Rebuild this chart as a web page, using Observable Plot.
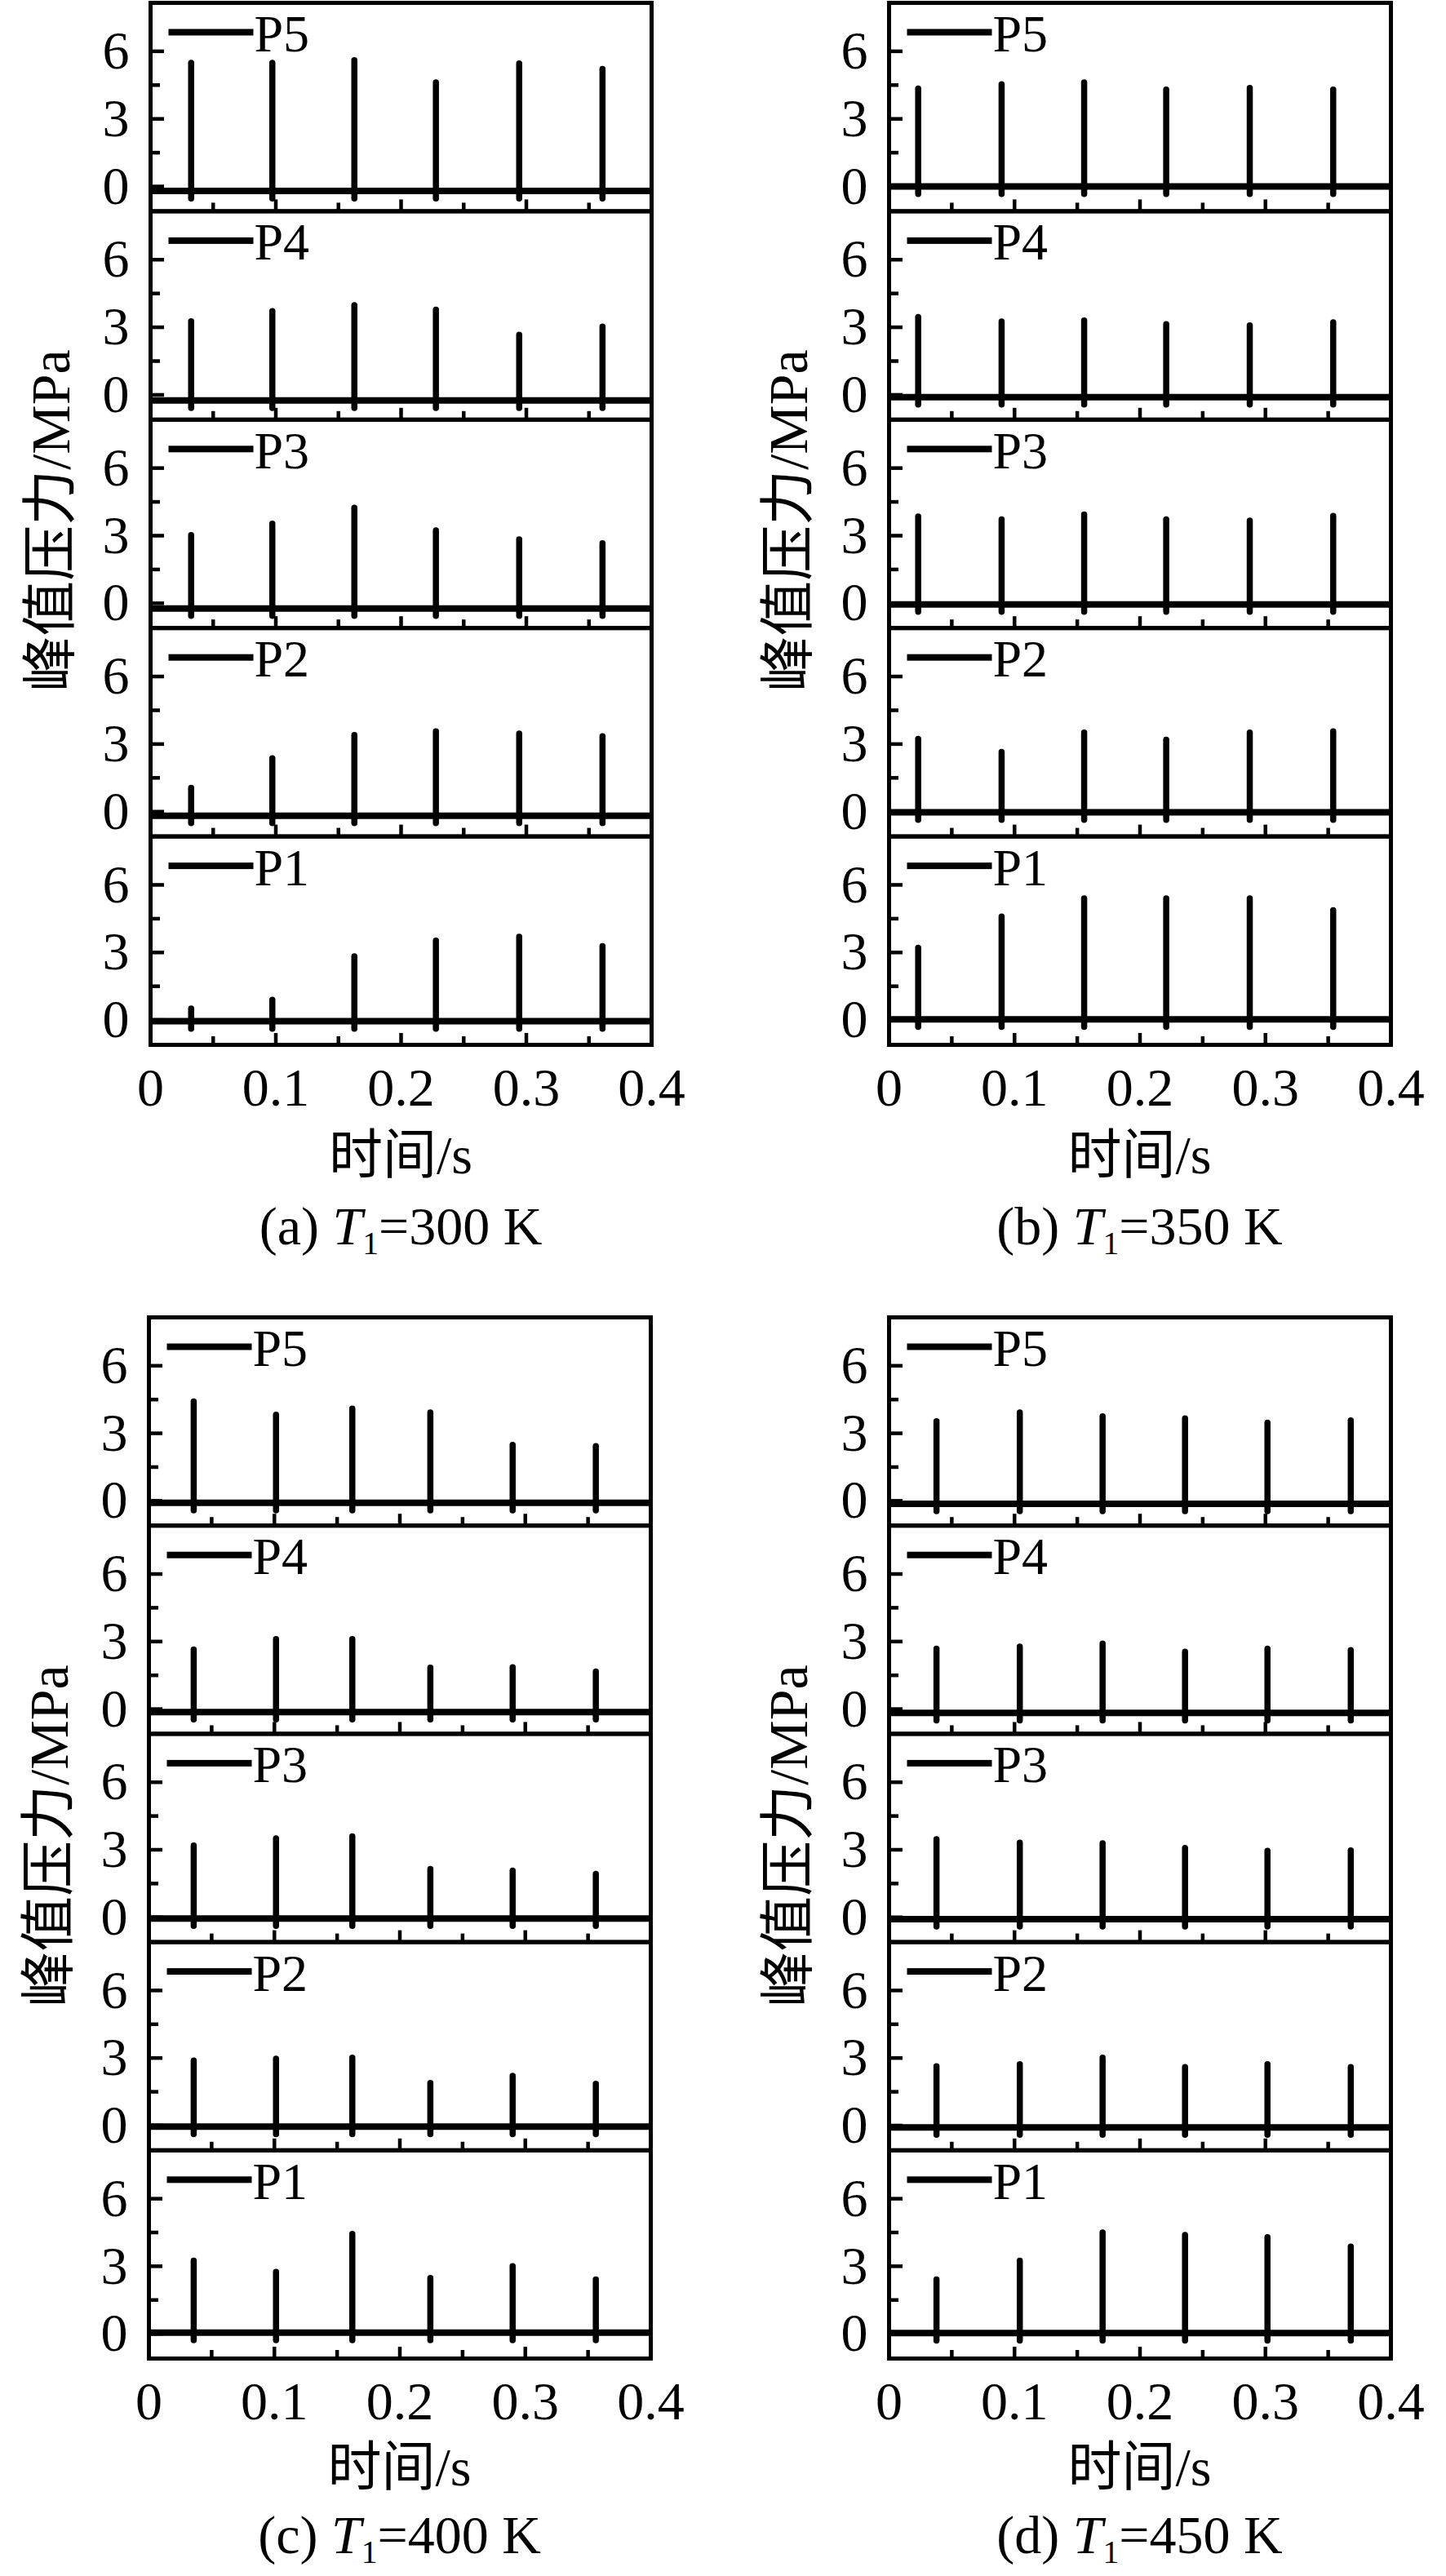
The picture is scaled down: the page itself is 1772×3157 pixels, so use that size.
<!DOCTYPE html>
<html>
<head>
<meta charset="utf-8">
<script src="https://cdn.jsdelivr.net/npm/d3@7"></script>
<script src="https://cdn.jsdelivr.net/npm/@observablehq/plot@0.6"></script>
<style>
html, body { margin: 0; padding: 0; background: #fff; }
#page { position: relative; width: 1772px; height: 3157px; background: #fff; overflow: hidden;
  font-family: "Liberation Serif", "Noto Sans CJK SC", serif; color: #000; }
.q { position: absolute; }
.lbl { position: absolute; white-space: nowrap; line-height: 1; color: #000; }
.lbl sub { font-size: 0.6em; vertical-align: -0.3em; }
</style>
</head>
<body>
<div id="page"></div>
<script>
// ---------- data ----------
const sensors = ["P5", "P4", "P3", "P2", "P1"];
const caseLetters = ["a", "b", "c", "d"];
const inletTemps = [300, 350, 400, 450];
const xLabel = "时间/s";
const yLabel = "峰值压力/MPa";

const xTickValues = [0, 0.1, 0.2, 0.3, 0.4];
const xMajorTicks = [0.1, 0.2, 0.3];
const xMinorTicks = [0.05, 0.15, 0.25, 0.35];
const yTickValues = [0, 3, 6];
const yMinorTicks = [1.5, 4.5];

// spike times (s) per case
const timesA = [0.0324, 0.0972, 0.1627, 0.2278, 0.2943, 0.3608];
const timesB = [0.0232, 0.0897, 0.1555, 0.2209, 0.2875, 0.3540];
const timesC = [0.0357, 0.1013, 0.1621, 0.2243, 0.2899, 0.3562];
const timesD = [0.0378, 0.1042, 0.1702, 0.2359, 0.3016, 0.3680];

// peak pressures (MPa), rows P5..P1
const peaksA = [
  [5.47, 5.47, 5.59, 4.60, 5.44, 5.20],
  [3.25, 3.70, 3.96, 3.76, 2.65, 3.01],
  [3.01, 3.52, 4.22, 3.22, 2.82, 2.65],
  [1.04, 2.35, 3.39, 3.55, 3.45, 3.33],
  [0.49, 0.88, 2.81, 3.51, 3.68, 3.26]
];
const peaksB = [
  [4.33, 4.52, 4.60, 4.28, 4.36, 4.28],
  [3.44, 3.24, 3.28, 3.12, 3.07, 3.20],
  [3.83, 3.71, 3.92, 3.71, 3.65, 3.86],
  [3.21, 2.63, 3.49, 3.18, 3.49, 3.55],
  [3.19, 4.58, 5.38, 5.38, 5.38, 4.86]
];
const peaksC = [
  [4.40, 3.81, 4.08, 3.91, 2.47, 2.41],
  [2.63, 3.09, 3.09, 1.82, 1.84, 1.65],
  [3.17, 3.49, 3.58, 2.13, 2.06, 1.91],
  [2.87, 2.95, 3.00, 1.87, 2.19, 1.84],
  [3.23, 2.73, 4.42, 2.46, 2.99, 2.40]
];
const peaksD = [
  [3.52, 3.91, 3.74, 3.65, 3.46, 3.56],
  [2.67, 2.76, 2.89, 2.53, 2.67, 2.60],
  [3.45, 3.30, 3.27, 3.06, 2.94, 2.95],
  [2.62, 2.71, 3.00, 2.58, 2.71, 2.58],
  [2.40, 3.23, 4.48, 4.37, 4.27, 3.86]
];

// baseline pressure levels (MPa), rows P5..P1
const baseA = [-0.20, -0.25, -0.23, -0.18, -0.05];
const baseB = [0.00, -0.10, -0.05, -0.03, 0.03];
const baseC = [-0.09, -0.13, -0.05, -0.05, 0.05];
const baseD = [-0.13, -0.17, -0.08, -0.08, 0.03];

// small undershoot below the baseline at each spike (MPa)
const troughDepth = 0.35;

const spikeTimes = [timesA, timesB, timesC, timesD];
const peakValues = [peaksA, peaksB, peaksC, peaksD];
const baselines = [baseA, baseB, baseC, baseD];

// ---------- layout ----------
const FONT = '"Liberation Serif", "Noto Sans CJK SC", serif';
const layout = [
  {left: 0,   top: 0,    mL: 184, mR: 88, mT: 3,  fH: 1277, xlabY: 1416, capY: 1507, ylabX: 62,  ylabY: 638},
  {left: 886, top: 0,    mL: 203, mR: 68, mT: 3,  fH: 1277, xlabY: 1416, capY: 1507, ylabX: 966, ylabY: 638},
  {left: 0,   top: 1600, mL: 182, mR: 89, mT: 14, fH: 1276, xlabY: 3024, capY: 3111, ylabX: 60,  ylabY: 2250},
  {left: 886, top: 1600, mL: 203, mR: 68, mT: 14, fH: 1276, xlabY: 3024, capY: 3111, ylabX: 966, ylabY: 2250}
];
const W = 886, MB = 100;
const TICK_FS = 66, LEGEND_FS = 64;

const page = document.getElementById("page");

function addLabel(html, x, y, size, rotate) {
  const d = document.createElement("div");
  d.className = "lbl";
  d.innerHTML = html;
  d.style.left = x + "px";
  d.style.top = y + "px";
  d.style.fontSize = size + "px";
  d.style.transform = "translate(-50%, -50%)" + (rotate ? " rotate(-90deg)" : "");
  page.appendChild(d);
}

function drawQuadrant(k) {
  const L = layout[k];
  const fw = W - L.mL - L.mR;
  const fh = L.fH / sensors.length;
  const times = spikeTimes[k], peaks = peakValues[k], bases = baselines[k];

  const spikes = sensors.flatMap((s, i) => times.map((t, j) => ({
    pos: s, t, peak: peaks[i][j], low: bases[i] - troughDepth
  })));
  const baseRows = sensors.map((s, i) => ({pos: s, base: bases[i]}));
  const labelRows = sensors.map(s => ({pos: s}));

  const svg = Plot.plot({
    width: W,
    height: L.mT + L.fH + MB,
    marginLeft: L.mL, marginRight: L.mR, marginTop: L.mT, marginBottom: MB,
    style: {fontFamily: FONT, background: "transparent", overflow: "visible", color: "#000"},
    x: {domain: [0, 0.4]},
    y: {domain: [-1.1, 8.15]},
    fy: {domain: sensors, padding: 0, round: false, axis: null},
    marks: [
      Plot.tickY(yTickValues, {y: d => d, insetRight: fw - 17, strokeWidth: 4.5, stroke: "#000"}),
      Plot.tickY(yMinorTicks, {y: d => d, insetRight: fw - 12, strokeWidth: 4.5, stroke: "#000"}),
      Plot.tickX(xMajorTicks, {x: d => d, insetTop: fh - 14, strokeWidth: 4.5, stroke: "#000"}),
      Plot.tickX(xMinorTicks, {x: d => d, insetTop: fh - 10, strokeWidth: 4.5, stroke: "#000"}),
      Plot.ruleY(baseRows, {fy: "pos", y: "base", strokeWidth: 8, stroke: "#000"}),
      Plot.ruleX(spikes, {fy: "pos", x: "t", y1: "low", y2: "peak", strokeWidth: 7.5, stroke: "#000", strokeLinecap: "round"}),
      // legend line + label in every panel
      Plot.frame({fill: "#000", stroke: null, insetLeft: 22, insetRight: fw - 126, insetTop: 32, insetBottom: fh - 40}),
      Plot.text(labelRows, {fy: "pos", text: "pos", frameAnchor: "top-left", dx: 127, dy: 39,
        textAnchor: "start", lineAnchor: "middle", fontSize: LEGEND_FS, fill: "#000"}),
      Plot.frame({stroke: "#000", strokeWidth: 5}),
      Plot.axisY(yTickValues, {tickSize: 0, tickPadding: 26, fontSize: TICK_FS, label: null, tickFormat: d => String(d)}),
      Plot.axisX(xTickValues, {tickSize: 0, tickPadding: 28, fontSize: TICK_FS, label: null, tickFormat: d => String(d)})
    ]
  });
  const wrap = document.createElement("div");
  wrap.className = "q";
  wrap.style.left = L.left + "px";
  wrap.style.top = L.top + "px";
  wrap.appendChild(svg);
  page.appendChild(wrap);

  const cx = L.left + L.mL + fw / 2;
  addLabel(xLabel, cx, L.xlabY, 66, false);
  addLabel(`(${caseLetters[k]}) <i>T</i><sub>1</sub>=${inletTemps[k]} K`, cx, L.capY, 66, false);
  addLabel(yLabel, L.ylabX, L.ylabY, 68, true);
}

for (let k = 0; k < 4; k++) drawQuadrant(k);
</script>
</body>
</html>
